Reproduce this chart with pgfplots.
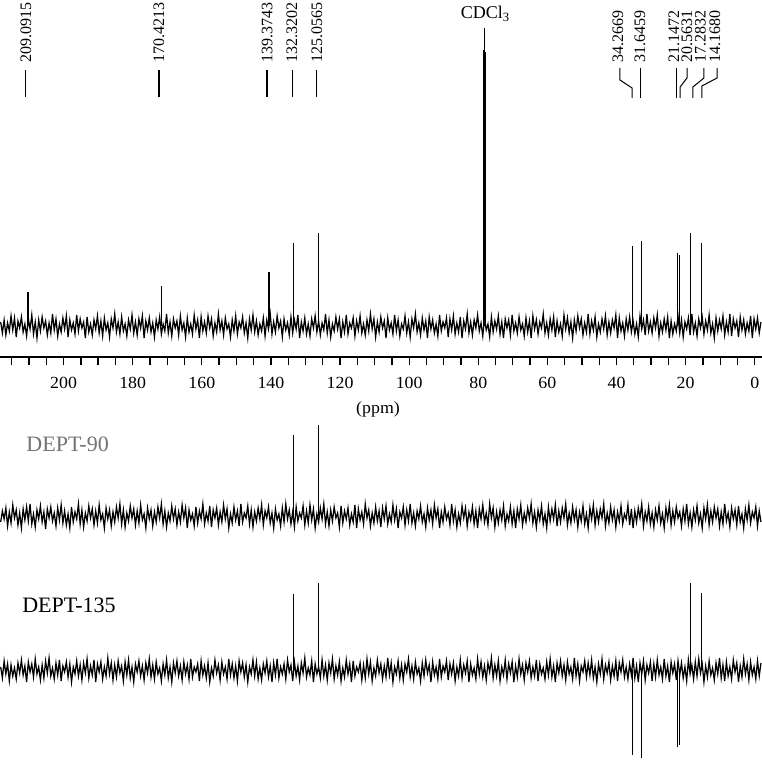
\documentclass[border=0pt]{standalone}
\usepackage{fontspec}
\setmainfont{Liberation Serif}
\usepackage{pgfplots}
\usepackage{pgfplotstable}
\pgfplotsset{compat=1.18}
\pgfplotstableread{
x a b c
217 4 -6 3
216.5 -7 5 -8
216 6 -3 9
215.5 -9 8 -4
215 3 -10 6
214.5 -5 4 -11
214 10 -7 5
213.5 -4 11 -6
213 8 -2 2
212.5 -11 6 -9
212 5 -9 7
211.5 -2 3 -3
211 9 -12 10
210.5 -6 7 -5
210 2 -4 4
209.5 -10 9 -12
209 7 -5 8
208.5 -3 12 -2
208 11 -8 6
207.5 -8 2 -7
207 4 -11 11
206.5 -12 6 -4
206 6 -3 3
205.5 -5 10 -10
205 9 -6 5
204.5 -2 4 -8
204 5 -13 9
203.5 -9 7 -3
203 3 -2 12
202.5 -7 9 -6
202 12 -5 2
201.5 -4 3 -9
201 7 -10 7
200.5 -10 8 -5
200 2 -4 10
199.5 -6 11 -11
199 8 -7 4
198.5 -3 5 -2
198 10 -9 8
197.5 -11 2 -7
197 6 -12 6
196.5 -4 9 -12
196 3 -6 3
195.5 -8 4 -4
195 11 -3 9
194.5 -5 12 -6
194 7 -8 5
193.5 -2 6 -10
193 4 -11 7
192.5 -12 3 -3
192 9 -5 11
191.5 -6 10 -8
191 2 -2 4
190.5 -9 7 -5
190 6 -9 10
189.5 -3 5 -12
189 10 -7 6
188.5 -7 11 -2
188 5 -4 8
187.5 -10 2 -9
187 8 -12 3
186.5 -4 8 -6
186 3 -3 12
185.5 -11 6 -4
185 7 -10 7
184.5 -2 4 -10
184 12 -6 5
183.5 -6 9 -7
183 4 -2 9
182.5 -8 12 -3
182 9 -8 4
181.5 -5 6 -11
181 2 -11 8
180.5 -10 3 -5
180 6 -5 10
179.5 -3 10 -8
179 11 -2 3
178.5 -7 7 -12
178 4 -9 6
177.5 -9 5 -2
177 7 -7 9
176.5 -2 11 -6
176 10 -4 4
175.5 -12 2 -10
175 5 -12 7
174.5 -4 8 -3
174 8 -3 11
173.5 -6 6 -7
173 3 -10 5
172.5 -11 4 -9
172 6 -6 8
171.5 -3 9 -4
171 9 -2 2
170.5 -8 12 -11
170 2 -8 6
169.5 -5 5 -5
169 12 -11 10
168.5 -7 3 -8
168 4 -5 3
167.5 -10 10 -12
167 7 -3 7
166.5 -2 7 -3
166 5 -9 9
165.5 -9 4 -6
165 10 -6 4
164.5 -4 11 -10
164 3 -2 8
163.5 -11 8 -4
163 8 -12 5
162.5 -6 6 -9
162 2 -4 11
161.5 -8 2 -7
161 11 -10 3
160.5 -3 9 -2
160 6 -7 6
159.5 -12 5 -11
159 9 -3 9
158.5 -5 12 -5
158 4 -8 4
157.5 -7 3 -8
157 10 -5 7
156.5 -2 10 -12
156 7 -11 2
155.5 -10 6 -6
155 3 -2 10
154.5 -6 8 -3
154 12 -9 5
153.5 -4 4 -10
153 5 -6 8
152.5 -9 11 -4
152 8 -3 3
151.5 -3 7 -9
151 2 -12 11
150.5 -11 2 -5
150 6 -7 6
149.5 -5 9 -8
149 10 -4 4
148.5 -8 5 -11
148 4 -10 9
147.5 -2 12 -2
147 9 -6 7
146.5 -7 3 -7
146 3 -2 5
145.5 -12 10 -12
145 7 -8 3
144.5 -4 6 -4
144 11 -11 10
143.5 -6 4 -6
143 5 -5 8
142.5 -9 8 -9
142 2 -3 2
141.5 -5 11 -10
141 8 -9 6
140.5 -10 5 -3
140 6 -2 9
139.5 -3 9 -7
139 12 -7 4
138.5 -8 3 -12
138 4 -12 7
137.5 -6 7 -5
137 10 -4 11
136.5 -2 2 -8
136 5 -10 3
135.5 -11 8 -4
135 7 -6 6
134.5 -4 12 -9
134 3 -3 10
133.5 -9 6 -2
133 9 -8 5
132.5 -7 4 -11
132 6 -11 8
131.5 -3 9 -6
131 11 -5 4
130.5 -12 3 -10
130 4 -2 7
129.5 -5 10 -3
129 8 -9 12
128.5 -8 5 -7
128 2 -7 2
127.5 -10 11 -5
127 7 -4 9
126.5 -2 7 -12
126 10 -12 6
125.5 -6 2 -4
125 5 -6 3
124.5 -9 8 -8
124 3 -3 10
123.5 -4 12 -6
123 12 -8 5
122.5 -7 4 -10
122 6 -10 7
121.5 -11 6 -3
121 2 -5 11
120.5 -5 9 -9
120 9 -2 4
119.5 -3 3 -5
119 7 -11 8
118.5 -12 10 -11
118 4 -7 2
117.5 -6 5 -7
117 11 -3 10
116.5 -8 8 -4
116 3 -9 6
115.5 -2 2 -12
115 8 -6 9
114.5 -10 11 -6
114 5 -12 3
113.5 -4 7 -2
113 10 -4 7
112.5 -7 4 -10
112 2 -8 5
111.5 -9 12 -8
111 6 -2 11
110.5 -5 6 -4
110 12 -10 8
109.5 -3 3 -11
109 7 -7 2
108.5 -11 9 -6
108 4 -5 10
107.5 -6 5 -3
107 9 -11 6
106.5 -2 8 -9
106 5 -3 4
105.5 -12 10 -7
105 8 -8 12
104.5 -4 2 -5
104 3 -6 7
103.5 -8 11 -12
103 11 -4 3
102.5 -5 7 -4
102 6 -12 9
101.5 -10 4 -8
101 2 -2 5
100.5 -3 9 -10
100 10 -9 6
99.5 -7 6 -2
99 4 -5 11
98.5 -11 12 -7
98 7 -7 4
97.5 -2 3 -9
97 12 -10 8
96.5 -6 5 -4
96 3 -3 2
95.5 -9 10 -11
95 8 -6 7
94.5 -4 2 -6
94 5 -11 10
93.5 -12 8 -3
93 9 -4 5
92.5 -3 6 -12
92 6 -8 8
91.5 -7 11 -5
91 2 -2 3
90.5 -10 7 -9
90 11 -12 11
89.5 -5 4 -7
89 4 -6 4
88.5 -2 9 -2
88 8 -3 9
87.5 -11 3 -10
87 7 -9 6
86.5 -4 12 -4
86 10 -5 7
85.5 -8 6 -11
85 3 -11 3
84.5 -6 2 -6
84 9 -7 10
83.5 -12 10 -8
83 5 -2 5
82.5 -3 8 -3
82 12 -10 9
81.5 -7 4 -12
81 4 -4 6
80.5 -9 9 -5
80 6 -8 2
79.5 -2 5 -9
79 11 -12 11
78.5 -5 7 -4
78 3 -3 8
77.5 -10 11 -7
77 8 -6 4
76.5 -4 3 -10
76 2 -9 7
75.5 -11 12 -2
75 9 -2 12
74.5 -6 8 -8
74 5 -11 5
73.5 -3 4 -6
73 10 -7 9
72.5 -8 6 -11
72 4 -4 3
71.5 -12 10 -5
71 7 -10 10
70.5 -2 2 -9
70 6 -5 6
69.5 -9 9 -3
69 11 -8 8
68.5 -5 5 -12
68 3 -12 4
67.5 -7 7 -7
67 9 -3 11
66.5 -4 11 -4
66 2 -9 5
65.5 -10 3 -10
65 8 -6 7
64.5 -6 8 -2
64 5 -2 9
63.5 -12 12 -8
63 10 -7 3
62.5 -3 4 -6
62 6 -11 10
61.5 -8 6 -11
61 4 -4 6
60.5 -2 10 -4
60 12 -8 2
59.5 -7 2 -9
59 3 -12 8
58.5 -9 9 -5
58 7 -5 11
57.5 -4 7 -7
57 9 -3 4
56.5 -11 11 -12
56 5 -10 7
55.5 -6 5 -3
55 2 -6 9
54.5 -10 8 -6
54 11 -2 5
53.5 -3 12 -10
53 8 -9 8
52.5 -7 3 -4
52 4 -7 3
51.5 -12 9 -9
51 6 -4 12
50.5 -5 6 -6
50 10 -11 6
49.5 -2 4 -11
49 7 -5 4
48.5 -9 10 -2
48 3 -8 9
47.5 -6 2 -7
47 12 -12 7
46.5 -8 8 -5
46 5 -3 10
45.5 -4 11 -8
45 9 -9 3
44.5 -11 5 -12
44 2 -6 6
43.5 -6 7 -4
43 7 -2 11
42.5 -3 12 -9
42 10 -10 5
41.5 -9 3 -3
41 4 -7 8
40.5 -7 9 -10
40 6 -4 4
39.5 -2 6 -6
39 11 -11 9
38.5 -12 4 -11
38 8 -5 7
37.5 -5 10 -2
37 3 -8 10
36.5 -10 2 -7
36 7 -3 3
35.5 -4 11 -9
35 9 -9 6
34.5 -6 7 -5
34 5 -12 12
33.5 -8 5 -8
33 2 -6 4
32.5 -11 8 -12
32 10 -2 7
31.5 -3 12 -4
31 6 -10 9
30.5 -9 4 -10
30 12 -5 5
29.5 -5 9 -3
29 4 -8 8
28.5 -7 3 -11
28 8 -11 6
27.5 -2 6 -7
27 11 -4 10
26.5 -10 10 -5
26 3 -7 3
25.5 -6 2 -9
25 7 -12 11
24.5 -4 8 -6
24 9 -3 4
23.5 -12 11 -12
23 5 -9 8
22.5 -8 5 -3
22 2 -6 6
21.5 -5 9 -10
21 10 -2 9
20.5 -7 4 -5
20 6 -10 7
19.5 -11 7 -8
19 4 -5 3
18.5 -3 12 -11
18 8 -8 10
17.5 -9 3 -4
17 12 -11 5
16.5 -6 6 -9
16 3 -4 8
15.5 -10 10 -6
15 7 -7 11
14.5 -2 2 -3
14 9 -12 6
13.5 -8 8 -12
13 5 -3 4
12.5 -4 11 -7
12 11 -9 9
11.5 -7 5 -5
11 2 -6 2
10.5 -12 9 -10
10 8 -2 7
9.5 -5 7 -4
9 6 -10 12
8.5 -3 4 -8
8 10 -8 5
7.5 -9 12 -11
7 4 -5 8
6.5 -6 3 -6
6 12 -11 3
5.5 -10 8 -9
5 7 -3 10
4.5 -2 6 -2
4 5 -9 7
3.5 -11 10 -12
3 9 -6 4
2.5 -4 2 -7
2 6 -12 11
1.5 -8 7 -4
1 3 -4 6
0.5 -5 11 -10
0 10 -7 8
-0.5 -12 4 -5
-1 7 -2 3
-1.5 -3 9 -9
-2 8 -10 9
-2.5 -7 5 -6
-3 4 -6 7
}\noise

\begin{document}
\begin{tikzpicture}
\begin{axis}[
  scale only axis, width=762pt, height=761pt,
  xmin=-3.3, xmax=217.2, ymin=-404, ymax=357,
  x dir=reverse,
  axis x line=middle, axis y line=none,
  axis line style={-, line width=1.6pt},
  xtick={-1.2,18.8,38.8,58.8,78.8,98.8,118.8,138.8,158.8,178.8,198.8},
  xticklabels={0,20,40,60,80,100,120,140,160,180,200},
  minor xtick={3.8,8.8,13.8,23.8,28.8,33.8,43.8,48.8,53.8,63.8,68.8,73.8,83.8,88.8,93.8,103.8,108.8,113.8,123.8,128.8,133.8,143.8,148.8,153.8,163.8,168.8,173.8,183.8,188.8,193.8,203.8,208.8,213.8},
  tick align=outside,
  major tick length=8pt, minor tick length=8pt,
  tick style={line width=1.3pt, black},
  xticklabel style={font=\fontsize{17}{17}\selectfont, xscale=1.05, yshift=-9pt},
  unbounded coords=jump,
]
% noise
\addplot[black, line width=1.25pt] table[x=x, y expr=\thisrow{a}+31] {\noise};
\addplot[black, line width=1.25pt] table[x=x, y expr=\thisrow{b}-159] {\noise};
\addplot[black, line width=1.25pt] table[x=x, y expr=\thisrow{c}-313] {\noise};
% 13C peaks
\addplot[black, line width=1.1pt] coordinates {
 (209.09,31)(209.09,65)(209.09,nan)
 (170.42,31)(170.42,71)(170.42,nan)
 (139.37,31)(139.37,85)(139.37,nan)
 (132.32,31)(132.32,114)(132.32,nan)
 (125.06,31)(125.06,124)(125.06,nan)
 (34.27,31)(34.27,111)(34.27,nan)
 (31.65,31)(31.65,116)(31.65,nan)
 (21.15,31)(21.15,104)(21.15,nan)
 (20.56,31)(20.56,102)(20.56,nan)
 (17.28,31)(17.28,124)(17.28,nan)
 (14.17,31)(14.17,114)
};
\addplot[black, line width=0.8pt] coordinates {
 (77.3,31)(77.3,307)(77.3,nan)
 (77.0,31)(77.0,329)(77.0,nan)
 (76.7,31)(76.7,305)
};
% DEPT-90 peaks
\addplot[black, line width=1.1pt] coordinates {
 (132.32,-159)(132.32,-78)(132.32,nan)
 (125.06,-159)(125.06,-68)
};
% DEPT-135 peaks
\addplot[black, line width=1.1pt] coordinates {
 (132.32,-313)(132.32,-237)(132.32,nan)
 (125.06,-313)(125.06,-226)(125.06,nan)
 (34.27,-313)(34.27,-398)(34.27,nan)
 (31.65,-313)(31.65,-401)(31.65,nan)
 (21.15,-313)(21.15,-390)(21.15,nan)
 (20.56,-313)(20.56,-388)(20.56,nan)
 (17.28,-313)(17.28,-226)(17.28,nan)
 (14.17,-313)(14.17,-236)
};
% peak labels
\begin{scope}[every node/.style={rotate=90, anchor=west, inner sep=0pt, font=\fontsize{16}{16}\selectfont}]
\node at (axis cs:209.7,294) {209.0915};
\node at (axis cs:171.2,294) {170.4213};
\node at (axis cs:139.9,294) {139.3743};
\node at (axis cs:132.7,294) {132.3202};
\node at (axis cs:125.5,294) {125.0565};
\node at (axis cs:38.4,294) {34.2669};
\node at (axis cs:32.0,294) {31.6459};
\node at (axis cs:22.2,294) {21.1472};
\node at (axis cs:18.4,294) {20.5631};
\node at (axis cs:14.5,294) {17.2832};
\node at (axis cs:10.3,294) {14.1680};
\end{scope}
\draw[line width=1pt] (axis cs:209.7,287) -- (axis cs:209.7,260);
\draw[line width=1.6pt] (axis cs:171.2,287) -- (axis cs:171.2,260);
\draw[line width=1.6pt] (axis cs:139.9,287) -- (axis cs:139.9,260);
\draw[line width=1pt] (axis cs:132.7,287) -- (axis cs:132.7,260);
\draw[line width=1pt] (axis cs:125.5,287) -- (axis cs:125.5,260);
\draw[line width=1pt] (axis cs:37.8,289) -- (axis cs:37.8,277) -- (axis cs:34.3,269) -- (axis cs:34.3,259);
\draw[line width=1pt] (axis cs:31.8,289) -- (axis cs:31.8,259);
\draw[line width=1pt] (axis cs:21.4,289) -- (axis cs:21.4,259);
\draw[line width=1pt] (axis cs:18.4,289) -- (axis cs:18.4,279) -- (axis cs:20.4,270) -- (axis cs:20.4,259);
\draw[line width=1pt] (axis cs:13.5,289) -- (axis cs:13.5,279) -- (axis cs:16.7,270) -- (axis cs:16.7,259);
\draw[line width=1pt] (axis cs:9.7,289) -- (axis cs:9.7,279) -- (axis cs:14.1,271) -- (axis cs:14.1,259);
\node[font=\fontsize{18}{18}\selectfont] at (axis cs:76.8,343) {CDCl\textsubscript{3}};
\node[font=\fontsize{17}{17}\selectfont, xscale=1.05] at (axis cs:107.8,-52) {(ppm)};
\node[anchor=west, inner sep=0pt, text=black!55, font=\fontsize{22}{22}\selectfont] at (axis cs:209.6,-87) {DEPT-90};
\node[anchor=west, inner sep=0pt, font=\fontsize{22}{22}\selectfont] at (axis cs:210.8,-248) {DEPT-135};
\end{axis}
\pgfresetboundingbox
\path[use as bounding box] (current axis.south west) rectangle (current axis.north east);
\end{tikzpicture}
\end{document}
